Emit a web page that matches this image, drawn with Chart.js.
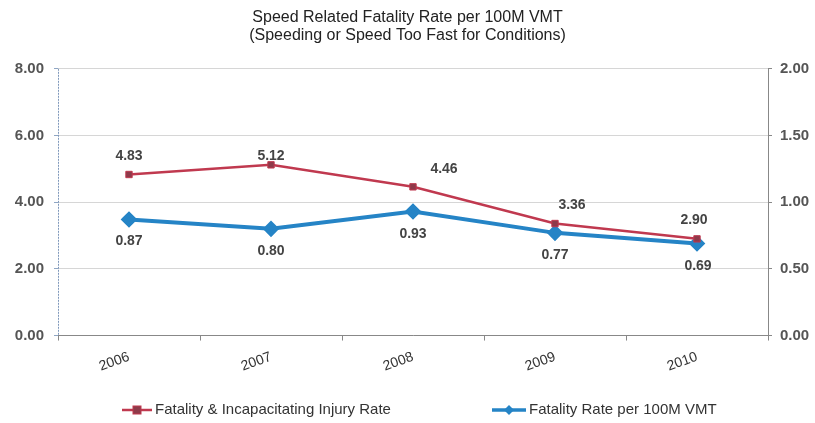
<!DOCTYPE html>
<html>
<head>
<meta charset="utf-8">
<script src="https://cdn.jsdelivr.net/npm/chart.js@4"></script>
<style>
  html, body { margin: 0; padding: 0; background: #fff; }
  #wrap { width: 815px; height: 423px; }
</style>
</head>
<body>
<div id="wrap"><canvas id="myChart" width="815" height="423"></canvas></div>
<script>
const years = ["2006", "2007", "2008", "2009", "2010"];
const injuryRate = [4.83, 5.12, 4.46, 3.36, 2.90];
const fatalityRate = [0.87, 0.80, 0.93, 0.77, 0.69];
const leftTicks = [0, 2, 4, 6, 8];
const rightTicks = [0, 0.5, 1, 1.5, 2];

const red = "#c0394f";
const redFill = "#8e3a4a";
const blue = "#2584c6";
const fontFamily = "'Liberation Sans', Arial, sans-serif";

// label nudges (px) so the numbers sit like the original
const redOffsets = [[0, -18], [0, -9], [31, -18], [17, -18], [-3, -19]];
const blueOffsets = [[0, 22], [0, 22], [0, 23], [0, 22], [1, 23]];

const valueLabels = {
  id: "valueLabels",
  afterDatasetsDraw(chart) {
    const ctx = chart.ctx;
    ctx.save();
    ctx.font = "bold 14px " + fontFamily;
    ctx.fillStyle = "#444";
    ctx.textAlign = "center";
    ctx.textBaseline = "middle";
    [[0, redOffsets], [1, blueOffsets]].forEach(([i, offs]) => {
      const meta = chart.getDatasetMeta(i);
      const data = chart.data.datasets[i].data;
      meta.data.forEach((pt, j) => {
        ctx.fillText(data[j].toFixed(2), pt.x + offs[j][0], pt.y + offs[j][1]);
      });
    });
    ctx.restore();
  }
};

// dotted left axis line (border.dash would also dash the grid)
const leftAxisLine = {
  id: "leftAxisLine",
  beforeDatasetsDraw(chart) {
    const { ctx, chartArea } = chart;
    ctx.save();
    ctx.strokeStyle = "#7f98bb";
    ctx.lineWidth = 1;
    ctx.setLineDash([2, 1]);
    ctx.beginPath();
    ctx.moveTo(chartArea.left + 0.5, chartArea.top);
    ctx.lineTo(chartArea.left + 0.5, chartArea.bottom);
    ctx.stroke();
    ctx.restore();
  }
};

// legend drawn by hand so it can sit far apart like the original
const bottomLegend = {
  id: "bottomLegend",
  afterDraw(chart) {
    const ctx = chart.ctx;
    const y = 410;
    const items = [
      { x: 122, w: 30, color: red, fill: redFill, shape: "rect", text: chart.data.datasets[0].label },
      { x: 492, w: 34, color: blue, fill: blue, shape: "diamond", text: chart.data.datasets[1].label },
    ];
    ctx.save();
    items.forEach(it => {
      ctx.strokeStyle = it.color;
      ctx.lineWidth = it.shape === "rect" ? 2.5 : 3.5;
      ctx.beginPath(); ctx.moveTo(it.x, y); ctx.lineTo(it.x + it.w, y); ctx.stroke();
      const cx = it.x + it.w / 2;
      ctx.fillStyle = it.fill;
      if (it.shape === "rect") {
        ctx.fillRect(cx - 4, y - 4, 8, 8);
        ctx.strokeStyle = it.color; ctx.lineWidth = 1;
        ctx.strokeRect(cx - 4, y - 4, 8, 8);
      } else {
        ctx.beginPath();
        ctx.moveTo(cx, y - 5); ctx.lineTo(cx + 5, y); ctx.lineTo(cx, y + 5); ctx.lineTo(cx - 5, y);
        ctx.closePath(); ctx.fill();
      }
      ctx.fillStyle = "#333";
      ctx.font = "15px " + fontFamily;
      ctx.textAlign = "left";
      ctx.textBaseline = "middle";
      ctx.fillText(it.text, it.x + it.w + 3, y);
    });
    ctx.restore();
  }
};

const ctx = document.querySelector("#myChart");

const myChart = new Chart(ctx, {
  type: "line",
  data: {
    labels: years,
    datasets: [
      {
        label: "Fatality & Incapacitating Injury Rate",
        data: injuryRate,
        yAxisID: "y",
        borderColor: red,
        backgroundColor: redFill,
        borderWidth: 2.5,
        pointStyle: "rect",
        pointRadius: 4.5,
        pointBorderColor: red,
        pointBorderWidth: 1,
        tension: 0,
      },
      {
        label: "Fatality Rate per 100M VMT",
        data: fatalityRate,
        yAxisID: "y1",
        borderColor: blue,
        backgroundColor: blue,
        borderWidth: 4,
        pointStyle: "rectRot",
        pointRadius: 5.5,
        pointBorderColor: blue,
        tension: 0,
      },
    ],
  },
  options: {
    responsive: false,
    animation: false,
    layout: { padding: { top: 4, left: 0, right: 0, bottom: 40 } },
    plugins: {
      title: {
        display: true,
        text: ["Speed Related Fatality Rate per 100M VMT", "(Speeding or Speed Too Fast for Conditions)"],
        color: "#222",
        font: { family: fontFamily, size: 16, weight: "normal", lineHeight: 1.15 },
        padding: { top: 4, bottom: 24 },
      },
      legend: { display: false },
      tooltip: { enabled: false },
    },
    scales: {
      x: {
        offset: true,
        grid: { display: true, drawOnChartArea: false, offset: true, tickLength: 5, color: "#888" },
        border: { color: "#888" },
        ticks: {
          minRotation: 20,
          maxRotation: 20,
          color: "#333",
          padding: 8,
          font: { family: fontFamily, size: 14 },
        },
      },
      y: {
        position: "left",
        min: 0,
        max: 8,
        afterFit(scale) { scale.width = 58; },
        afterBuildTicks(scale) { scale.ticks = leftTicks.map(v => ({ value: v })); },
        grid: { color: "#d6d6d6", tickLength: 4, lineWidth: 1, tickColor: "#8fa6c4" },
        border: { display: false },
        ticks: {
          color: "#555",
          padding: 10,
          font: { family: fontFamily, size: 15, weight: "bold" },
          callback: v => v.toFixed(2),
        },
      },
      y1: {
        position: "right",
        min: 0,
        max: 2,
        afterFit(scale) { scale.width = 47; },
        afterBuildTicks(scale) { scale.ticks = rightTicks.map(v => ({ value: v })); },
        grid: { drawOnChartArea: false, tickLength: 4, color: "#888" },
        border: { color: "#888" },
        ticks: {
          color: "#555",
          padding: 8,
          font: { family: fontFamily, size: 15, weight: "bold" },
          callback: v => v.toFixed(2),
        },
      },
    },
  },
  plugins: [leftAxisLine, valueLabels, bottomLegend],
});
</script>
</body>
</html>
